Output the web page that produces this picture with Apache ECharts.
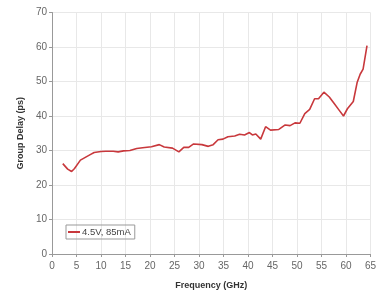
<!DOCTYPE html>
<html>
<head>
<meta charset="utf-8">
<script src="https://cdn.jsdelivr.net/npm/echarts@6/dist/echarts.min.js"></script>
<style>html,body{margin:0;padding:0;background:#fff}#c{width:379px;height:295px}</style>
</head>
<body>
<div id="c"></div>
<script>
const seriesName = '4.5V, 85mA';
const freqGHz = [2.2,3.2,4.0,4.6,5.8,6.8,7.8,8.6,10.0,11.0,12.5,13.5,14.6,15.9,17.3,18.5,20.3,21.9,22.9,24.6,25.9,26.9,27.9,28.9,30.6,31.9,32.9,33.9,34.9,35.9,37.3,38.3,39.3,40.3,40.9,41.6,42.6,43.6,44.6,46.3,47.6,48.6,49.6,50.6,51.6,52.6,53.6,54.4,55.5,56.6,57.6,58.6,59.5,60.3,61.5,62.3,62.9,63.5,64.3];
const groupDelayPs = [26.2,24.6,23.9,24.8,27.2,28.0,28.8,29.4,29.7,29.8,29.8,29.6,29.9,30.0,30.6,30.8,31.1,31.7,31.0,30.7,29.6,30.9,30.9,31.9,31.7,31.2,31.7,33.1,33.3,34.0,34.2,34.7,34.5,35.2,34.5,34.8,33.3,36.9,35.9,36.1,37.4,37.2,38.0,37.9,40.7,41.9,45.0,45.0,46.9,45.5,43.6,41.7,40.0,42.1,44.2,49.8,52.1,53.6,60.4];
const xTicks = {min:0, max:65, interval:5};
const yTicks = {min:0, max:70, interval:10};

const chart = echarts.init(document.getElementById('c'), null, {renderer:'canvas'});
const font = 'Liberation Sans, Arial, sans-serif';
chart.setOption({
  animation:false,
  backgroundColor:'#fff',
  grid:{left:52, right:1, top:12.5, bottom:37.5, containLabel:false},
  legend:{
    left:66, top:225, orient:'vertical',
    itemWidth:12, itemHeight:2, itemGap:0,
    borderColor:'#999', borderWidth:1, padding:[2,4,2,2],
    icon:'rect',
    textStyle:{fontFamily:font, fontSize:9.5, color:'#444', padding:[0,0,0,-3]},
    data:[seriesName]
  },
  xAxis:{
    type:'value', min:xTicks.min, max:xTicks.max, interval:xTicks.interval,
    name:'Frequency (GHz)', nameLocation:'middle', nameGap:27,
    nameTextStyle:{fontFamily:font, fontSize:9, fontWeight:'bold', color:'#333'},
    axisLine:{show:true, lineStyle:{color:'#999'}},
    axisTick:{show:true, length:3, lineStyle:{color:'#999'}},
    axisLabel:{fontFamily:font, fontSize:10, color:'#666', margin:7},
    splitLine:{show:true, lineStyle:{color:'#e8e8e8'}}
  },
  yAxis:{
    type:'value', min:yTicks.min, max:yTicks.max, interval:yTicks.interval,
    name:'Group Delay (ps)', nameLocation:'middle', nameGap:25,
    nameTextStyle:{fontFamily:font, fontSize:9, fontWeight:'bold', color:'#333'},
    axisLine:{show:true, lineStyle:{color:'#999'}},
    axisTick:{show:true, length:3, lineStyle:{color:'#999'}},
    axisLabel:{fontFamily:font, fontSize:10, color:'#666', margin:5},
    splitLine:{show:true, lineStyle:{color:'#e8e8e8'}}
  },
  series:[{
    name:seriesName, type:'line', showSymbol:false, symbol:'none',
    data:freqGHz.map((f,i)=>[f, groupDelayPs[i]]),
    lineStyle:{color:'#c8383c', width:1.6},
    itemStyle:{color:'#c8383c'}
  }]
});
</script>
</body>
</html>
